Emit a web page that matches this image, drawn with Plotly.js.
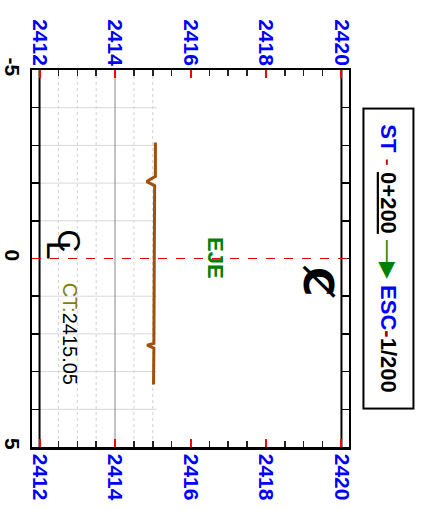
<!DOCTYPE html>
<html>
<head>
<meta charset="utf-8">
<script src="https://cdn.plot.ly/plotly-3.0.1.min.js"></script>
<style>html,body{margin:0;padding:0;background:#fff;}#chart{width:424px;height:510px;}</style>
</head>
<body>
<div id="chart"></div>
<script>
// ---- data ----
const profileOffsets = [-3.08, -2.18, -2.04, -1.93, 0, 2.25, 2.30, 2.38, 3.34];
const profileElevs   = [2415.07, 2415.07, 2414.84, 2415.05, 2415.04, 2415.03, 2414.85, 2415.03, 2415.02];
const elevTicks   = [2412, 2414, 2416, 2418, 2420];
const elevLabels  = ['2412', '2414', '2416', '2418', '2420'];
const offsetTicks = [-5, -4, -3, -2, -1, 0, 1, 2, 3, 4, 5];
const offsetLabels = ['-5', '', '', '', '', '0', '', '', '', '', '5'];
const gridElevs   = [2412.5, 2413, 2413.5, 2414.5, 2415];
const gridMainElev = [2414];
const gridOffsets = [-4, -3, -2, -1, 1, 2, 3, 4];
const gridEnd = 2415.1;
const centerElev = 2415.05;
const station = '0+200';
const scaleText = '1/200';

const SANS = "'Liberation Sans', Arial, sans-serif";

// grid segments
function vSegs(vals) {
  const x = [], y = [];
  vals.forEach(v => { x.push(v, v, null); y.push(-5, 5, null); });
  return {x, y};
}
const hx = [], hy = [];
gridOffsets.forEach(o => { hx.push(elevTicks[0], gridEnd, null); hy.push(o, o, null); });
const gv = vSegs(gridElevs);
const gm = vSegs(gridMainElev);
const edges = vSegs([elevTicks[0], elevTicks[elevTicks.length - 1]]);

const traces = [
  {x: gv.x, y: gv.y, mode: 'lines', line: {color: '#d0d0d0', width: 1, dash: 'dot'}, hoverinfo: 'skip', showlegend: false},
  {x: hx, y: hy, mode: 'lines', line: {color: '#d8d8d8', width: 1}, hoverinfo: 'skip', showlegend: false},
  {x: gm.x, y: gm.y, mode: 'lines', line: {color: '#888888', width: 1}, hoverinfo: 'skip', showlegend: false},
  {x: edges.x, y: edges.y, mode: 'lines', line: {color: '#000', width: 2}, hoverinfo: 'skip', showlegend: false},
  {x: profileElevs, y: profileOffsets, mode: 'lines', line: {color: '#a0500a', width: 3}, showlegend: false},
  {x: [elevTicks[0]], y: [0], xaxis: 'x2', mode: 'markers', marker: {opacity: 0}, hoverinfo: 'skip', showlegend: false}
];

const tickFont = {family: SANS, size: 21, color: '#0000ff', weight: 'bold'};
const xBase = {
  range: [2411.8, 2420.2],
  tickvals: elevTicks, ticktext: elevLabels,
  ticks: 'inside', ticklen: 8, tickwidth: 2, tickcolor: '#ff0000',
  minor: {tick0: 2412, dtick: 0.5, ticks: 'inside', ticklen: 6, tickwidth: 1.5, tickcolor: '#222', showgrid: false},
  showgrid: false, zeroline: false,
  tickangle: 90, tickfont: tickFont
};

const layout = {
  width: 424, height: 510,
  margin: {l: 32, r: 75, t: 70, b: 63, pad: 0},
  paper_bgcolor: '#fff', plot_bgcolor: '#fff',
  xaxis: Object.assign({}, xBase, {showline: true, linewidth: 2.5, linecolor: '#000', mirror: true, anchor: 'y'}),
  xaxis2: Object.assign({}, xBase, {overlaying: 'x', matches: 'x', side: 'top', anchor: 'y', showline: false}),
  yaxis: {
    range: [5, -5], tickvals: offsetTicks, ticktext: offsetLabels,
    ticks: 'inside', ticklen: 8, tickwidth: 1.5, tickcolor: '#000',
    showline: true, linewidth: 2, linecolor: '#000', mirror: 'ticks',
    showgrid: false, zeroline: false, tickangle: 90,
    tickfont: {family: SANS, size: 21, color: '#000', weight: 'bold'}
  },
  shapes: [
    {type: 'line', xref: 'paper', yref: 'y', x0: 0, x1: 1, y0: 0, y1: 0, line: {color: '#e00000', width: 1.2, dash: 'dash'}}
  ],
  annotations: [
    {x: 2416.66, y: 0, xref: 'x', yref: 'y', text: '<b>EJE</b>', showarrow: false, textangle: 90,
     font: {family: SANS, size: 22, color: '#008000'}},
    {x: 2412.78, y: -0.46, xref: 'x', yref: 'y', text: 'C', showarrow: false, textangle: 90,
     font: {family: SANS, size: 32, color: '#000'}},
    {x: 2412.5, y: -0.22, xref: 'x', yref: 'y', text: 'L', showarrow: false, textangle: 90,
     font: {family: SANS, size: 34, color: '#000'}},
    {x: 2419.38, y: 0.6, xref: 'x', yref: 'y', text: '<b>Ȼ</b>', showarrow: false, textangle: 90,
     font: {family: 'DejaVu Sans', size: 40, color: '#000'}},
    {x: 2412.83, y: 1.99, xref: 'x', yref: 'y', text: '<span style="color:#808000">CT:</span>' + centerElev.toFixed(2), showarrow: false, textangle: 90,
     font: {family: SANS, size: 20, color: '#000'}},
    {x: 1.126, y: 0.5, xref: 'paper', yref: 'paper', xanchor: 'center', yanchor: 'middle',
     text: '<b><span style="color:#0000ff">ST</span></b><span style="color:#a00000"> - </span><b><span style="text-decoration:underline">' + station + '</span></b><span style="color:#008000"> —▶ </span><b><span style="color:#0000ff">ESC</span><span style="color:#a00000">-</span>' + scaleText + '</b>',
     showarrow: false, textangle: 90, width: 294, height: 44, borderpad: 2,
     bordercolor: '#000', borderwidth: 2, bgcolor: '#fff',
     font: {family: SANS, size: 22, color: '#000'}}
  ]
};

Plotly.newPlot('chart', traces, layout, {displayModeBar: false, staticPlot: true});
</script>
</body>
</html>
